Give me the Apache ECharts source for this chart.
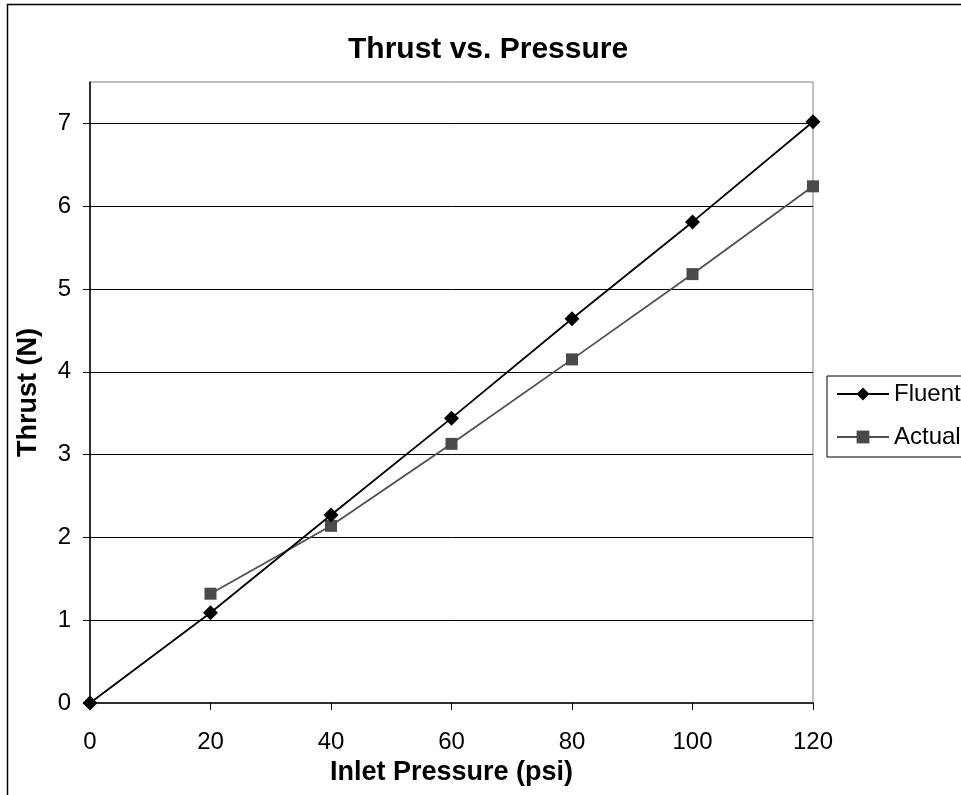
<!DOCTYPE html>
<html>
<head>
<meta charset="utf-8">
<title>Thrust vs. Pressure</title>
<script src="https://cdn.jsdelivr.net/npm/echarts@6/dist/echarts.min.js"></script>
<style>
    html, body { margin: 0; padding: 0; background: #fff; }
    #chart { width: 961px; height: 795px; }
</style>
</head>
<body>
<div id="chart"></div>
<script>
// inlet pressure (psi)
var pressure = [0, 20, 40, 60, 80, 100, 120];
// thrust (N)
var fluentThrust = [0, 1.09, 2.27, 3.44, 4.64, 5.81, 7.02];
var actualPressure = [20, 40, 60, 80, 100, 120];
var actualThrust = [1.32, 2.14, 3.13, 4.15, 5.18, 6.24];

function pairs(xs, ys) {
    var out = [];
    for (var i = 0; i < xs.length; i++) {
        out.push([xs[i], ys[i]]);
    }
    return out;
}

var FONT = '"Liberation Sans", Arial, sans-serif';

var myChart = echarts.init(document.getElementById('chart'));
var option = {
    animation: false,
    backgroundColor: '#fff',
    textStyle: { fontFamily: FONT },
    title: {
        text: 'Thrust vs. Pressure',
        left: 343,
        top: 30,
        textStyle: {
            fontFamily: FONT,
            fontSize: 30,
            fontWeight: 'bold',
            color: '#000'
        }
    },
    graphic: [{
        type: 'rect',
        silent: true,
        shape: { x: 7.5, y: 4.5, width: 1200, height: 1200 },
        style: { fill: 'none', stroke: '#000', lineWidth: 1.5 }
    }],
    legend: {
        orient: 'vertical',
        left: 827,
        top: 376,
        padding: [6, 30, 8, 9],
        itemWidth: 52,
        itemHeight: 16,
        itemGap: 19,
        borderColor: '#000',
        borderWidth: 1,
        backgroundColor: '#fff',
        textStyle: {
            fontFamily: FONT,
            fontSize: 24,
            color: '#000'
        },
        data: ['Fluent', 'Actual']
    },
    grid: {
        left: 90,
        right: 148,
        top: 82,
        bottom: 92,
        show: true,
        borderColor: '#808080',
        borderWidth: 1,
        containLabel: false
    },
    xAxis: {
        type: 'value',
        min: 0,
        max: 120,
        interval: 20,
        name: 'Inlet Pressure (psi)',
        nameLocation: 'middle',
        nameGap: 56,
        nameTextStyle: {
            fontFamily: FONT,
            fontSize: 27,
            fontWeight: 'bold',
            color: '#000'
        },
        axisLine: { lineStyle: { color: '#000', width: 1.5 } },
        axisTick: { show: true, inside: false, length: 7, lineStyle: { color: '#000' } },
        axisLabel: {
            margin: 27,
            fontFamily: FONT,
            fontSize: 24,
            color: '#000'
        },
        splitLine: { show: false }
    },
    yAxis: {
        type: 'value',
        min: 0,
        max: 7.5,
        interval: 1,
        name: 'Thrust (N)',
        nameLocation: 'middle',
        nameGap: 48,
        nameTextStyle: {
            fontFamily: FONT,
            fontSize: 27,
            fontWeight: 'bold',
            color: '#000'
        },
        axisLine: { show: true, lineStyle: { color: '#000', width: 1.5 } },
        axisTick: { show: true, inside: false, length: 7, lineStyle: { color: '#000' } },
        axisLabel: {
            margin: 19,
            fontFamily: FONT,
            fontSize: 24,
            color: '#000',
            showMaxLabel: false
        },
        splitLine: {
            show: true,
            showMinLine: false,
            showMaxLine: false,
            lineStyle: { color: '#000', width: 1 }
        }
    },
    series: [
        {
            name: 'Fluent',
            type: 'line',
            data: pairs(pressure, fluentThrust),
            symbol: 'diamond',
            symbolSize: 15,
            itemStyle: { color: '#000' },
            lineStyle: { color: '#000', width: 1.8 },
            z: 3
        },
        {
            name: 'Actual',
            type: 'line',
            data: pairs(actualPressure, actualThrust),
            symbol: 'rect',
            symbolSize: 12,
            itemStyle: { color: '#4a4a4a' },
            lineStyle: { color: '#505050', width: 1.8 },
            z: 2
        }
    ]
};
myChart.setOption(option);

window.addEventListener('resize', function () {
    myChart.resize();
});
</script>
</body>
</html>
